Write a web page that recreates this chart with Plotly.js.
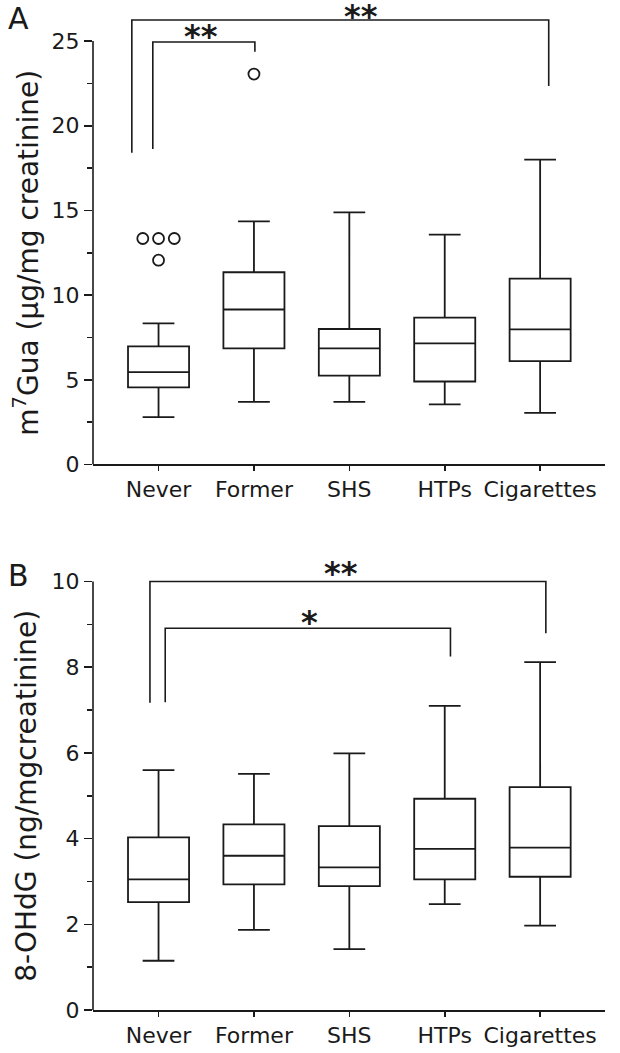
<!DOCTYPE html>
<html><head><meta charset="utf-8">
<script src="https://cdn.plot.ly/plotly-3.0.1.min.js"></script>
<style>html,body{margin:0;padding:0;background:#fff}</style>
</head><body>
<div id="chart" style="width:620px;height:1053px"></div>
<script>
const categories = ['Never','Former','SHS','HTPs','Cigarettes'];

// Panel A: m7Gua (µg/mg creatinine)
const aLower  = [2.8, 3.7, 3.7, 3.55, 3.05];
const aQ1     = [4.55, 6.85, 5.25, 4.9, 6.1];
const aMedian = [5.45, 9.15, 6.85, 7.15, 7.98];
const aQ3     = [6.97, 11.35, 8.0, 8.67, 10.97];
const aUpper  = [8.33, 14.35, 14.88, 13.57, 18.0];
const aOutlierGroup  = [0, 0, 0, 0, 1];
const aOutlierValue  = [13.34, 13.34, 13.34, 12.06, 23.05];
const aOutlierJitter = [-0.165, 0, 0.165, 0, 0];

// Panel B: 8-OHdG (ng/mgcreatinine)
const bLower  = [1.15, 1.87, 1.42, 2.47, 1.97];
const bQ1     = [2.52, 2.93, 2.89, 3.05, 3.11];
const bMedian = [3.05, 3.6, 3.33, 3.76, 3.79];
const bQ3     = [4.03, 4.33, 4.29, 4.93, 5.2];
const bUpper  = [5.6, 5.51, 5.99, 7.1, 8.12];

// Significance brackets: [leftX, rightX, top, leftBottom, rightBottom, label, labelX, labelY, labelAnchor]
const aBrackets = [
  [-0.28, 4.09, 26.24, 18.41, 22.34, '**', 2.12, 27.42, 'top'],
  [-0.06, 1.01, 24.94, 18.62, 24.37, '**', 0.45, 25.31, 'middle']
];
const bBrackets = [
  [-0.09, 4.06, 10.0, 7.17, 8.79, '**', 1.91, 10.21, 'middle'],
  [0.07, 3.06, 8.91, 7.18, 8.25, '*', 1.58, 9.06, 'middle']
];

const FONT = 'DejaVu Sans, Verdana, sans-serif';
const INK = '#1a1a1a';
const idx = categories.map((c, i) => i);

function boxTrace(xa, ya, lo, q1, med, q3, hi) {
  return {
    type: 'box', xaxis: xa, yaxis: ya, x: idx,
    q1: q1, median: med, q3: q3, lowerfence: lo, upperfence: hi,
    boxpoints: false, fillcolor: 'rgba(255,255,255,0)',
    line: {color: INK, width: 1.8}, width: 0.64, whiskerwidth: 0.52,
    showlegend: false, hoverinfo: 'skip'
  };
}

const data = [
  boxTrace('x', 'y', aLower, aQ1, aMedian, aQ3, aUpper),
  boxTrace('x2', 'y2', bLower, bQ1, bMedian, bQ3, bUpper),
  {
    type: 'scatter', mode: 'markers', xaxis: 'x', yaxis: 'y',
    x: aOutlierGroup.map((g, i) => g + aOutlierJitter[i]), y: aOutlierValue,
    marker: {symbol: 'circle-open', size: 11, color: INK, line: {width: 1.8, color: INK}},
    showlegend: false, hoverinfo: 'skip', cliponaxis: false
  }
];

const shapes = [];
const annotations = [];
function addBrackets(list, xr, yr) {
  list.forEach(b => {
    const [l, r, top, lb, rb, lab, lx, ly, anc] = b;
    shapes.push({type: 'path', xref: xr, yref: yr,
      path: `M ${l},${lb} L ${l},${top} L ${r},${top} L ${r},${rb}`,
      line: {color: INK, width: 1.6}});
    annotations.push({xref: xr, yref: yr, x: lx, y: ly, text: '<b>' + lab + '</b>', showarrow: false,
      xanchor: 'center', yanchor: anc, borderpad: 0, yshift: anc === 'top' ? 4 : 0,
      font: {family: FONT, size: 32, color: INK}});
  });
}
addBrackets(aBrackets, 'x', 'y');
addBrackets(bBrackets, 'x2', 'y2');

// y-axis lines limited to the labelled range
shapes.push({type: 'line', xref: 'paper', yref: 'y', x0: 0, x1: 0, y0: 0, y1: 25, line: {color: INK, width: 1.6}});
shapes.push({type: 'line', xref: 'paper', yref: 'y2', x0: 0, x1: 0, y0: 0, y1: 10, line: {color: INK, width: 1.6}});

// axis titles
annotations.push({xref: 'paper', yref: 'y', x: 0, y: 12.5, xshift: -66, textangle: -90,
  text: 'm<sup>7</sup>Gua (μg/mg creatinine)', showarrow: false, xanchor: 'center', yanchor: 'middle',
  font: {family: FONT, size: 28, color: INK}});
annotations.push({xref: 'paper', yref: 'y2', x: 0, y: 5, xshift: -66, textangle: -90,
  text: '8-OHdG (ng/mgcreatinine)', showarrow: false, xanchor: 'center', yanchor: 'middle',
  font: {family: FONT, size: 28, color: INK}});
// panel letters
annotations.push({xref: 'paper', yref: 'paper', x: 0, y: 1, xshift: -75, yshift: -18, text: 'A', showarrow: false,
  xanchor: 'center', yanchor: 'middle', font: {family: FONT, size: 30, color: INK}});
annotations.push({xref: 'paper', yref: 'y2', x: 0, y: 10, xshift: -75, yshift: 6, text: 'B', showarrow: false,
  xanchor: 'center', yanchor: 'middle', font: {family: FONT, size: 30, color: INK}});

const xBase = {
  range: [-0.687, 4.68], tickmode: 'array', tickvals: idx, ticktext: categories,
  ticks: 'outside', ticklen: 5, tickwidth: 1.6, tickcolor: INK,
  showline: true, linecolor: INK, linewidth: 1.6, showgrid: false, zeroline: false,
  tickfont: {family: FONT, size: 22, color: INK}, fixedrange: true
};
const yBase = {
  ticks: 'outside', ticklen: 8, tickwidth: 1.6, tickcolor: INK,
  showline: false, showgrid: false, zeroline: false,
  tickfont: {family: FONT, size: 22, color: INK}, fixedrange: true
};

const layout = {
  width: 620, height: 1053,
  margin: {l: 93, r: 15, t: 0, b: 43},
  paper_bgcolor: '#fff', plot_bgcolor: 'rgba(0,0,0,0)',
  font: {family: FONT, color: INK},
  xaxis: Object.assign({}, xBase, {anchor: 'y'}),
  yaxis: Object.assign({}, yBase, {domain: [0.5401, 1], range: [0, 27.42], tickmode: 'linear', tick0: 0, dtick: 5,
    minor: {ticks: 'outside', ticklen: 5, tickwidth: 1.6, tickcolor: INK, dtick: 2.5, tick0: 0}}),
  xaxis2: Object.assign({}, xBase, {anchor: 'y2'}),
  yaxis2: Object.assign({}, yBase, {domain: [0, 0.4412], range: [0, 10.4], tickmode: 'linear', tick0: 0, dtick: 2,
    minor: {ticks: 'outside', ticklen: 5, tickwidth: 1.6, tickcolor: INK, dtick: 1, tick0: 0}}),
  shapes: shapes, annotations: annotations, showlegend: false
};

Plotly.newPlot('chart', data, layout, {displayModeBar: false, staticPlot: true});
</script>
</body></html>
